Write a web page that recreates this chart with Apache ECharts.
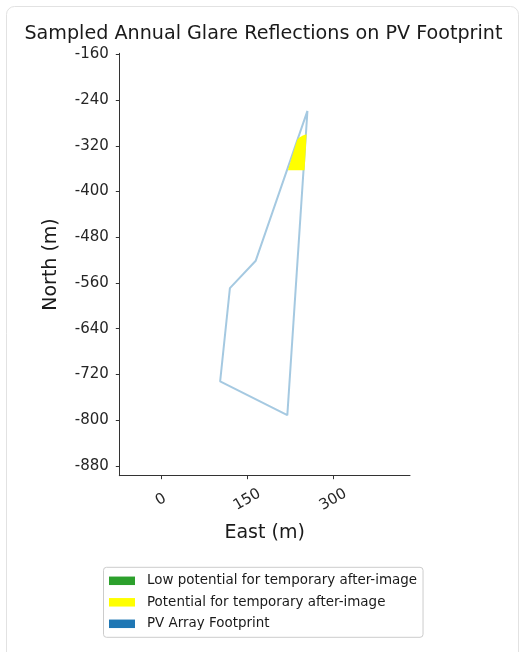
<!DOCTYPE html>
<html><head><meta charset="utf-8">
<script src="https://cdn.jsdelivr.net/npm/echarts@6/dist/echarts.min.js"></script>
<style>html,body{margin:0;padding:0;background:#fff}#c{width:520px;height:652px}</style>
</head><body><div id="c"></div>
<script>
const titleText = 'Sampled Annual Glare Reflections on PV Footprint';
const xAxisName = 'East (m)';
const yAxisName = 'North (m)';
const seriesNames = ['Low potential for temporary after-image', 'Potential for temporary after-image', 'PV Array Footprint'];
const seriesColors = ['#2ca02c', '#ffff00', '#1f77b4'];
// PV footprint outline (closed)
const footprintEast = [255, 165, 120, 103, 220, 255];
const footprintNorth = [-259, -521, -569, -732, -791, -259];
// glare region (potential for temporary after-image)
const glareEast = [253.5, 247, 241, 237, 221, 250, 252.5];
const glareNorth = [-300, -302, -305.5, -310, -363, -363, -320];
// low potential glare: none
const lowEast = [];
const lowNorth = [];
const xTicks = [0, 150, 300];
const yTicks = [-160, -240, -320, -400, -480, -560, -640, -720, -800, -880];
const xRange = [-72.6, 433.6];
const yRange = [-897, -158.3];

const FONT = 'DejaVu Sans';
const zip = (a, b) => a.map((v, i) => [v, b[i]]);
const footprint = zip(footprintEast, footprintNorth);
const glare = zip(glareEast, glareNorth);
const low = zip(lowEast, lowNorth);

const chart = echarts.init(document.getElementById('c'), null, {renderer: 'canvas'});
const axisCommon = {
  type: 'value',
  splitLine: {show: false},
  axisLine: {show: true, onZero: false, lineStyle: {color: '#333', width: 1}},
  axisTick: {show: true, length: 3.5, lineStyle: {color: '#333', width: 1}},
  nameLocation: 'middle',
  nameMoveOverlap: false,
  nameTextStyle: {fontFamily: FONT, fontSize: 19, color: '#1a1a1a'}
};
chart.setOption({
  backgroundColor: '#fff',
  animation: false,
  title: {
    text: titleText, left: 263.4, top: 24.6, padding: 0, textAlign: 'center',
    textStyle: {fontFamily: FONT, fontSize: 19.15, fontWeight: 'normal', color: '#1a1a1a'}
  },
  graphic: [{
    type: 'rect', silent: true, z: -10,
    shape: {x: 6.5, y: 6.5, width: 512, height: 700, r: 8},
    style: {fill: 'none', stroke: '#e2e2e2', lineWidth: 1}
  }],
  grid: {left: 119.3, right: 110, top: 53.3, bottom: 176.3, containLabel: false, outerBoundsMode: 'none'},
  xAxis: Object.assign({}, axisCommon, {
    min: xRange[0], max: xRange[1],
    name: xAxisName, nameGap: 48,
    axisTick: Object.assign({}, axisCommon.axisTick, {customValues: xTicks}),
    axisLabel: {
      customValues: xTicks, rotate: 30, margin: 24, align: 'center', verticalAlign: 'middle',
      fontFamily: FONT, fontSize: 15, color: '#262626', hideOverlap: false
    }
  }),
  yAxis: Object.assign({}, axisCommon, {
    min: yRange[0], max: yRange[1],
    name: yAxisName, nameGap: 58.5,
    axisTick: Object.assign({}, axisCommon.axisTick, {customValues: yTicks}),
    axisLabel: {
      customValues: yTicks, margin: 10.5,
      fontFamily: FONT, fontSize: 15, color: '#262626', hideOverlap: false,
      formatter: v => String(v)
    }
  }),
  legend: {
    orient: 'vertical', left: 103.5, top: 567.3,
    padding: [7, 6, 7, 5.5], itemGap: 8.5, itemWidth: 26, itemHeight: 8.5,
    icon: 'rect', selectedMode: false,
    borderColor: '#cccccc', borderWidth: 1, borderRadius: 3, backgroundColor: '#fff',
    itemStyle: {borderWidth: 0, opacity: 1},
    textStyle: {fontFamily: FONT, fontSize: 13.45, color: '#1a1a1a', padding: [0, 0, 0, 7]},
    data: seriesNames.map((n, i) => ({name: n, icon: 'rect', itemStyle: {color: seriesColors[i], borderWidth: 0, opacity: 1}}))
  },
  series: [
    {
      name: seriesNames[0], type: 'scatter', data: low, symbolSize: 4,
      itemStyle: {color: seriesColors[0], opacity: 1}
    },
    {
      name: seriesNames[2], type: 'line', data: footprint, symbol: 'none', z: 2,
      itemStyle: {color: seriesColors[2]},
      lineStyle: {color: 'rgba(31,119,180,0.4)', width: 2}
    },
    {
      name: seriesNames[1], type: 'custom', data: glare, z: 3,
      encode: {x: 0, y: 1},
      itemStyle: {color: seriesColors[1]},
      renderItem: function (params, api) {
        if (params.dataIndex !== 0) return null;
        const pts = glare.map(p => api.coord(p));
        return {type: 'polygon', shape: {points: pts}, style: {fill: seriesColors[1], stroke: 'none'}};
      }
    }
  ]
});
</script></body></html>
